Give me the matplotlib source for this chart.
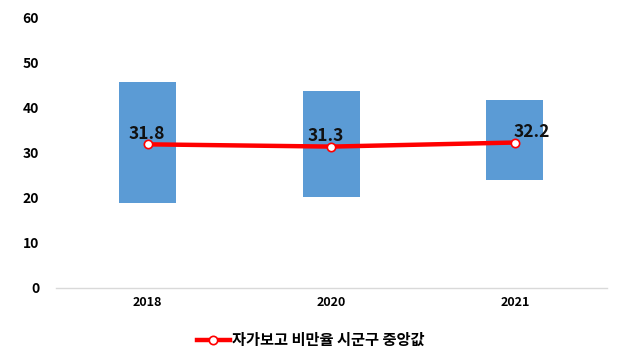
import matplotlib.pyplot as plt

plt.rcParams['font.family'] = ['Noto Sans CJK KR', 'DejaVu Sans']

# 연도별 시군구 분포 (최소~최대) 및 중앙값
years = ['2018', '2020', '2021']
low = [18.8, 20.1, 23.8]
high = [45.6, 43.6, 41.6]
median = [31.8, 31.3, 32.2]
legend_label = '자가보고 비만율 시군구 중앙값'
y_ticks = [0, 10, 20, 30, 40, 50, 60]

fig = plt.figure(figsize=(6.21, 3.63), dpi=100)
ax = fig.add_axes([0.090, 0.207, 0.887, 0.746])

x = range(len(years))
heights = [h - l for h, l in zip(high, low)]
ax.bar(x, heights, bottom=low, width=0.31, color='#5B9BD5', zorder=1)

ax.plot(x, median, color='#FF0000', lw=3.2, marker='o', markersize=6,
        markerfacecolor='white', markeredgecolor='#FF0000', markeredgewidth=1.2,
        label=legend_label, zorder=3)

offsets = [(-1, 1), (-4, 1), (12, 1)]
for i, v in enumerate(median):
    ax.annotate(f'{v:.1f}', (i, v), xytext=offsets[i], textcoords='offset points',
                ha='center', va='bottom', fontsize=12.5, fontweight='bold',
                color='#111111', zorder=4)

ax.set_xlim(-0.5, 2.5)
ax.set_ylim(0, 60)
ax.set_yticks(y_ticks)
ax.set_xticks(list(x))
ax.set_xticklabels(years)
for lbl in ax.get_yticklabels():
    lbl.set_fontsize(10)
    lbl.set_fontweight('bold')
for lbl in ax.get_xticklabels():
    lbl.set_fontsize(9)
    lbl.set_fontweight('bold')
ax.tick_params(axis='both', length=0)
ax.tick_params(axis='y', pad=12)
ax.tick_params(axis='x', pad=6)

for s in ['top', 'right', 'left']:
    ax.spines[s].set_visible(False)
ax.spines['bottom'].set_color('#D9D9D9')
ax.spines['bottom'].set_linewidth(1)

fig.legend(loc='center', bbox_to_anchor=(0.5, 0.063), frameon=False,
           handlelength=2.2, handletextpad=0.1,
           prop={'size': 11, 'weight': 'bold'})

fig.savefig('out.png', dpi=100)
